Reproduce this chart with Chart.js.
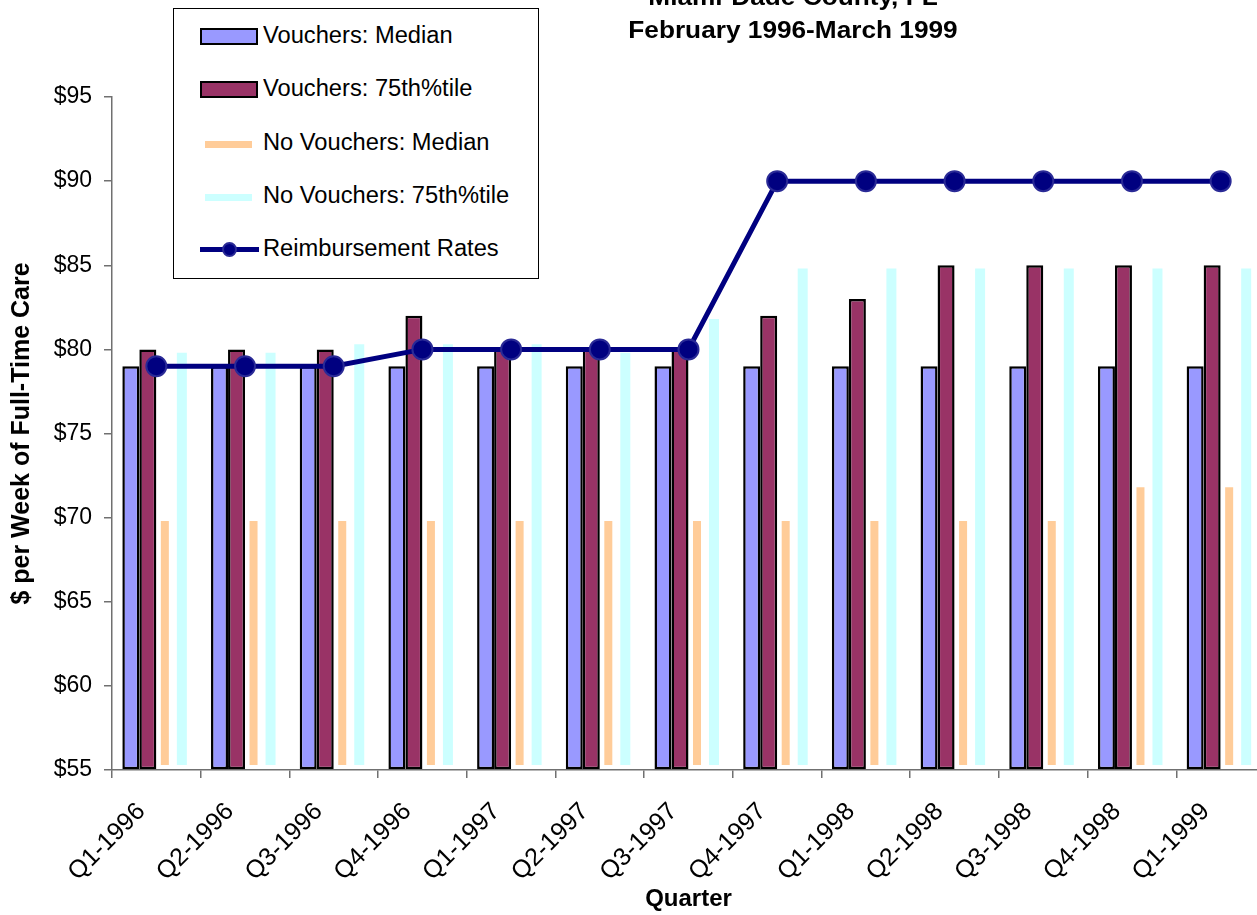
<!DOCTYPE html>
<html>
<head>
<meta charset="utf-8">
<script src="https://cdn.jsdelivr.net/npm/chart.js@4.4.0/dist/chart.umd.min.js"></script>
<style>
  html, body { margin: 0; padding: 0; background: #fff; overflow: hidden; }
  #wrap { position: relative; width: 1257px; height: 915px; overflow: hidden; }
  #chart { position: absolute; left: 0; top: 0; }
  #title { position: absolute; left: 543px; width: 500px; top: -19px; text-align: center;
           font: bold 23px "Liberation Sans", Arial, sans-serif; line-height: 33px;
           transform: scaleX(1.14); transform-origin: 50% 0; }
  #legend { position: absolute; left: 173px; top: 8px; width: 364px; height: 269px;
            border: 1px solid #000; background: #fff; }
  .row { position: absolute; left: 0; width: 364px; height: 30px; }
  .sw { position: absolute; box-sizing: border-box; }
  .lbl { position: absolute; left: 89px; top: 0; line-height: 30px; white-space: nowrap;
         font: 23px "Liberation Sans", Arial, sans-serif; transform: scaleX(1.03); transform-origin: 0 50%; }
</style>
</head>
<body>
<div id="wrap">
  <canvas id="chart" width="1290" height="915"></canvas>
  <div id="title">Miami-Dade County, FL<br>February 1996-March 1999</div>
  <div id="legend"></div>
</div>
<script>
const quarters = ['Q1-1996', 'Q2-1996', 'Q3-1996', 'Q4-1996', 'Q1-1997', 'Q2-1997', 'Q3-1997',
                  'Q4-1997', 'Q1-1998', 'Q2-1998', 'Q3-1998', 'Q4-1998', 'Q1-1999'];
const vouchersMedian = [79, 79, 79, 79, 79, 79, 79, 79, 79, 79, 79, 79, 79];
const vouchers75th   = [80, 80, 80, 82, 80, 80, 80, 82, 83, 85, 85, 85, 85];
const noVouchersMedian = [69.8, 69.8, 69.8, 69.8, 69.8, 69.8, 69.8, 69.8, 69.8, 69.8, 69.8, 71.8, 71.8];
const noVouchers75th   = [79.8, 79.8, 80.3, 80.3, 80.3, 79.8, 81.8, 84.8, 84.8, 84.8, 84.8, 84.8, 84.8];
const reimbursement    = [79, 79, 79, 80, 80, 80, 80, 90, 90, 90, 90, 90, 90];

const font = '"Liberation Sans", Arial, sans-serif';

const chart = new Chart(document.getElementById('chart'), {
  type: 'bar',
  data: {
    labels: quarters,
    datasets: [
      { type: 'line', label: 'Reimbursement Rates', data: reimbursement, order: 0,
        borderColor: '#000080', borderWidth: 5, backgroundColor: '#000080',
        pointRadius: 10, pointBackgroundColor: '#000080', pointBorderColor: '#2a2a96',
        pointBorderWidth: 2, tension: 0 },
      { label: 'Vouchers: Median', data: vouchersMedian, order: 1, base: 55,
        backgroundColor: '#9999FF', borderColor: '#000', borderWidth: 2.5, borderSkipped: false },
      { label: 'Vouchers: 75th%tile', data: vouchers75th, order: 1, base: 55,
        backgroundColor: '#993366', borderColor: '#000', borderWidth: 2.5, borderSkipped: false },
      { label: 'No Vouchers: Median', data: noVouchersMedian, order: 1, base: 55.3,
        backgroundColor: '#FFCC99', borderWidth: 0, maxBarThickness: 8 },
      { label: 'No Vouchers: 75th%tile', data: noVouchers75th, order: 1, base: 55.3,
        backgroundColor: '#CCFFFF', borderWidth: 0, maxBarThickness: 10 }
    ]
  },
  options: {
    responsive: false,
    animation: false,
    layout: { padding: { top: 97, right: 25, bottom: 0, left: 0 } },
    datasets: { bar: { categoryPercentage: 0.767, barPercentage: 1 } },
    plugins: { legend: { display: false }, title: { display: false }, tooltip: { enabled: false } },
    scales: {
      x: {
        offset: true,
        grid: { drawOnChartArea: false, drawTicks: true, tickLength: 8, color: '#707070', lineWidth: 1.5 },
        border: { color: '#707070', width: 1.5 },
        ticks: { color: '#000', font: { family: font, size: 25 }, minRotation: 45, maxRotation: 45,
                 padding: 19, labelOffset: -15, autoSkip: false },
        title: { display: true, text: 'Quarter', color: '#000', font: { family: font, size: 24, weight: 'bold' }, padding: { top: 0, bottom: 1 } },
        afterFit: (s) => { s.height = 145; }
      },
      y: {
        min: 55, max: 95,
        grid: { drawOnChartArea: false, drawTicks: true, tickLength: 8, color: '#707070', lineWidth: 1.5 },
        border: { color: '#707070', width: 1.5 },
        ticks: { stepSize: 5, color: '#000', font: { family: font, size: 23 }, padding: 12,
                 callback: (v) => '$' + v },
        title: { display: true, text: '$ per Week of Full-Time Care', color: '#000', font: { family: font, size: 25, weight: 'bold' }, padding: { top: 7, bottom: 0 } },
        afterFit: (s) => { s.width = 112; }
      }
    }
  }
});

// legend box built from the chart's datasets, bars first, line last
const legend = document.getElementById('legend');
const rowTops = [13, 66, 120, 173, 226];
const entries = chart.data.datasets.slice(1).concat(chart.data.datasets[0]);
entries.forEach((ds, i) => {
  const row = document.createElement('div');
  row.className = 'row';
  row.style.top = rowTops[i] + 'px';
  const sw = document.createElement('div');
  sw.className = 'sw';
  if (ds.type === 'line') {
    sw.style.cssText = 'left:26px;top:12px;width:59px;height:5px;background:' + ds.borderColor;
    const dot = document.createElement('div');
    dot.className = 'sw';
    dot.style.cssText = 'left:48px;top:7px;width:15px;height:15px;border-radius:50%;border:2px solid ' +
      ds.pointBorderColor + ';background:' + ds.pointBackgroundColor;
    row.appendChild(sw);
    row.appendChild(dot);
  } else if (ds.borderWidth) {
    sw.style.cssText = 'left:26px;top:6px;width:58px;height:17px;border:2px solid ' + ds.borderColor +
      ';background:' + ds.backgroundColor;
    row.appendChild(sw);
  } else {
    sw.style.cssText = 'left:31px;top:12px;width:47px;height:7px;background:' + ds.backgroundColor;
    row.appendChild(sw);
  }
  const lbl = document.createElement('div');
  lbl.className = 'lbl';
  lbl.textContent = ds.label;
  row.appendChild(lbl);
  legend.appendChild(row);
});
</script>
</body>
</html>
